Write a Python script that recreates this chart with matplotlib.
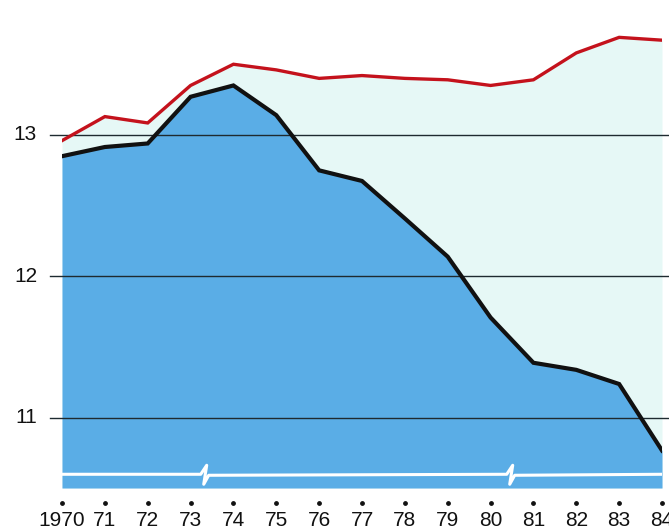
import matplotlib.pyplot as plt
import numpy as np

years = np.arange(1970, 1985)
year_labels = ["1970", "71", "72", "73", "74", "75", "76", "77", "78", "79",
               "80", "81", "82", "83", "84"]
blue_vals = [12.85, 12.915, 12.94, 13.27, 13.35, 13.14, 12.75, 12.675, 12.41,
             12.14, 11.71, 11.39, 11.34, 11.24, 10.77]
red_vals = [12.96, 13.13, 13.085, 13.35, 13.50, 13.46, 13.40, 13.42, 13.40,
            13.39, 13.35, 13.39, 13.58, 13.69, 13.67]
y_ticks = [11, 12, 13, 14]
breaks = [1973.33, 1980.47]

y_bottom = 10.505
y_top = 13.954

plt.rcParams['font.family'] = ['Liberation Sans', 'DejaVu Sans']

fig = plt.figure(figsize=(6.69, 5.32), dpi=100)
ax = fig.add_axes([62 / 669, 44 / 532, 600 / 669, 488 / 532])
ax.set_xlim(1970, 1984)
ax.set_ylim(y_bottom, y_top)
ax.axis("off")

# fills
ax.fill_between(years, y_bottom, red_vals, color="#e6f8f6", lw=0, zorder=1)
ax.fill_between(years, y_bottom, blue_vals, color="#5aade6", lw=0, zorder=2)

# grid lines (run a little past the plot on both sides)
for v in [11, 12, 13]:
    ax.plot([-0.02, 1.02], [v, v], transform=ax.get_yaxis_transform(),
            color="#1e2a30", lw=1.0, clip_on=False, zorder=3)

ax.plot(years, red_vals, color="#c4121c", lw=2.4, zorder=4,
        solid_joinstyle="miter")
ax.plot(years, blue_vals, color="#111111", lw=3.0, zorder=5,
        solid_joinstyle="miter")

# white axis-break line with two zigzags
px = 1 / 43.0
py = 1 / 141.5
base = 10.602
bx = [1970]
by = [base]
for b in breaks:
    bx += [b - 4 * px, b + 2 * px, b - 1 * px, b + 4 * px]
    by += [base, base + 9 * py, base - 10 * py, base - 1 * py]
bx.append(1984)
by.append(base)
ax.plot(bx, by, color="white", lw=2.2, zorder=6)

# x tick dots and labels
tr = ax.get_xaxis_transform()
ax.scatter(years, [-15 / 488] * len(years), s=6, color="#111111",
           transform=tr, clip_on=False)
for x, lab in zip(years, year_labels):
    ax.text(x, -33 / 488, lab, transform=tr, ha="center", va="center",
            fontsize=15, color="#111111", clip_on=False)

# y labels
for v in y_ticks:
    ax.text(-25 / 600, v, str(v), transform=ax.get_yaxis_transform(),
            ha="right", va="center", fontsize=15, color="#111111")

plt.savefig("out.png", dpi=100)
